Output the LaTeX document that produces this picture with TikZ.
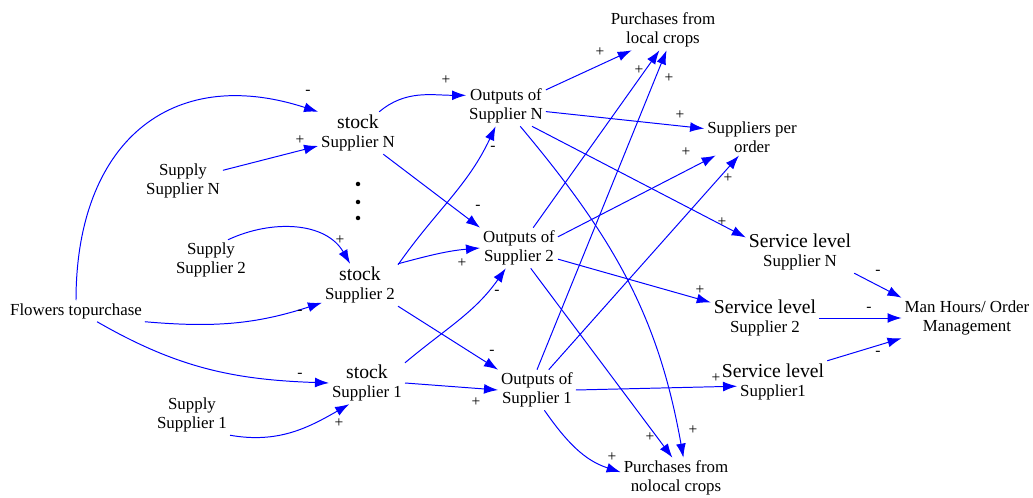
\documentclass[tikz,border=0pt]{standalone}
\usepackage{fontspec}
\setmainfont{Liberation Serif}
\usetikzlibrary{arrows.meta}
\newcommand{\lgtxt}[1]{{\fontsize{14}{16}\selectfont #1}}
\begin{document}
\begin{tikzpicture}[x=0.025cm,y=0.025cm,
    var/.style={align=center,inner sep=2pt,font=\fontsize{12}{13.5}\selectfont},
    link/.style={blue,line width=0.7pt,-{Latex[length=10pt,width=7pt]}},
    pol/.style={inner sep=0pt,text=black,font=\fontsize{11}{11}\selectfont}]
    \useasboundingbox (0,0) rectangle (1033,498);
    % variables
    \node[var] (flow) at (76,187) {Flowers topurchase};
    \node[var] (supN) at (183,317) {Supply\\Supplier N};
    \node[var] (sup2) at (211,238) {Supply\\Supplier 2};
    \node[var] (sup1) at (192,83) {Supply\\Supplier 1};
    \node[var] (stkN) at (358,365) {\lgtxt{stock}\\Supplier N};
    \node[var] (stk2) at (360,213) {\lgtxt{stock}\\Supplier 2};
    \node[var] (stk1) at (367,115) {\lgtxt{stock}\\Supplier 1};
    \node[var] (outN) at (506,392) {Outputs of\\Supplier N};
    \node[var] (out2) at (519,250) {Outputs of\\Supplier 2};
    \node[var] (out1) at (537,108) {Outputs of\\Supplier 1};
    \node[var] (local) at (663,468) {Purchases from\\local crops};
    \node[var] (spo) at (752,361) {Suppliers per\\order};
    \node[var] (nolocal) at (676,20) {Purchases from\\nolocal crops};
    \node[var] (svcN) at (800,246) {\lgtxt{Service level}\\Supplier N};
    \node[var] (svc2) at (765,180) {\lgtxt{Service level}\\Supplier 2};
    \node[var] (svc1) at (773,116) {\lgtxt{Service level}\\Supplier1};
    \node[var] (mh) at (967,180) {Man Hours/ Order\\Management};
    % dots between the stocks
    \foreach \yy in {314,296,280}
        \fill[black] (358,\yy) circle(1.6pt);
    % links into the stocks
    \draw[link] (flow.north) to[out=90,in=162,looseness=1.3] (stkN.north west) node[pol] at (308,406) {-};
    \draw[link] (supN.15) -- (stkN.198) node[pol] at (300,358) {+};
    \draw[link] (sup2.50) to[out=25,in=120] (stk2.115) node[pol] at (340,258) {+};
    \draw[link] (flow.south east) to[out=-5,in=198] (stk2.205) node[pol] at (300,186) {-};
    \draw[link] (flow.-27) to[out=-30,in=178] (stk1.west) node[pol] at (300,123) {-};
    \draw[link] (sup1.south east) to[out=-10,in=210] (stk1.230) node[pol] at (339,75) {+};
    % stocks to outputs
    \draw[link] (stkN.45) to[out=40,in=180] (outN.165) node[pol] at (446,418) {+};
    \draw[link] (stkN.-40) -- (out2.north west) node[pol] at (478,291) {-};
    \draw[link] (stk2.28) to[out=55,in=245] (outN.243) node[pol] at (493,350) {-};
    \draw[link] (stk2.north east) to[out=15,in=185] (out2.west) node[pol] at (462,235) {+};
    \draw[link] (stk2.south east) -- (out1.north west) node[pol] at (492,146) {-};
    \draw[link] (stk1.28) to[out=40,in=235] (out2.237) node[pol] at (497,206) {-};
    \draw[link] (stk1.east) -- (out1.west) node[pol] at (476,96) {+};
    % outputs to the right side
    \draw[link] (outN.22) -- (local.213) node[pol] at (600,446) {+};
    \draw[link] (outN.-8) -- (spo.170) node[pol] at (680,383) {+};
    \draw[link] (outN.-38) -- (svcN.165) node[pol] at (722,276) {+};
    \draw[link] (outN.-55) to[out=-50,in=100] (nolocal.70) node[pol] at (693,68) {+};
    \draw[link] (out2.55) -- (local.260) node[pol] at (639,428) {+};
    \draw[link] (out2.16) -- (spo.207) node[pol] at (686,346) {+};
    \draw[link] (out2.-16) -- (svc2.164) node[pol] at (700,208) {+};
    \draw[link] (out2.-60) -- (nolocal.100) node[pol] at (650,61) {+};
    \draw[link] (out1.north) -- (local.-80) node[pol] at (669,420) {+};
    \draw[link] (out1.60) -- (spo.235) node[pol] at (728,320) {+};
    \draw[link] (out1.east) -- ([xshift=13pt,yshift=-3pt]svc1.west) node[pol] at (716,120) {+};
    \draw[link] (out1.-70) to[out=-55,in=162] (nolocal.174) node[pol] at (612,41) {+};
    % service levels to man hours
    \draw[link] (svcN.south east) -- (mh.north west) node[pol] at (878,226) {-};
    \draw[link] (svc2.east) -- (mh.west) node[pol] at (869,189) {-};
    \draw[link] (svc1.north east) -- (mh.south west) node[pol] at (878,145) {-};
\end{tikzpicture}
\end{document}
